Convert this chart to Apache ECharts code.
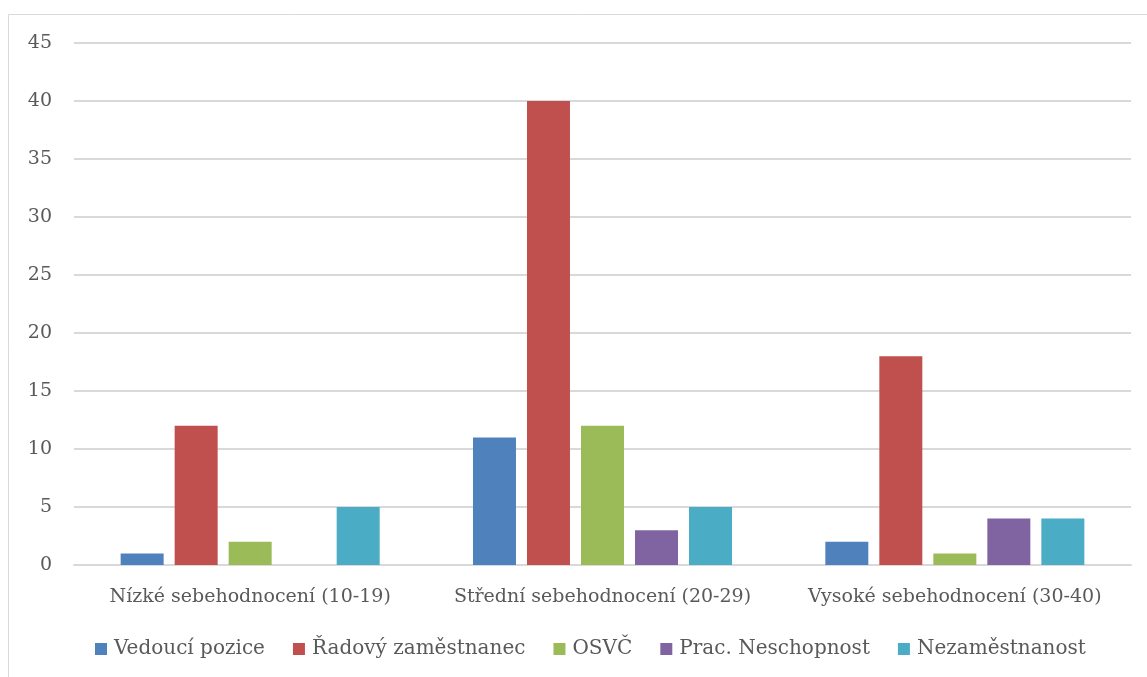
<!DOCTYPE html>
<html>
<head>
<meta charset="utf-8">
<script src="https://cdn.jsdelivr.net/npm/echarts@6/dist/echarts.min.js"></script>
<style>
html,body{margin:0;padding:0;background:#fff;}
#chart{width:1147px;height:677px;}
</style>
</head>
<body>
<div id="chart"></div>
<script>
const categories = ['Nízké sebehodnocení (10-19)', 'Střední sebehodnocení (20-29)', 'Vysoké sebehodnocení (30-40)'];
const seriesNames = ['Vedoucí pozice', 'Řadový zaměstnanec', 'OSVČ', 'Prac. Neschopnost', 'Nezaměstnanost'];
const vedouci = [1, 11, 2];
const radovy = [12, 40, 18];
const osvc = [2, 12, 1];
const pracNeschopnost = ['-', 3, 4];
const nezamestnanost = [5, 5, 4];
const colors = ['#4F81BD', '#C0504D', '#9BBB59', '#8064A2', '#4BACC6'];
const allValues = [vedouci, radovy, osvc, pracNeschopnost, nezamestnanost];

const font = 'DejaVu Serif';
const chart = echarts.init(document.getElementById('chart'));
chart.setOption({
  animation: false,
  textStyle: { fontFamily: font },
  graphic: [{
    type: 'rect',
    shape: { x: 8.5, y: 14.5, width: 1300, height: 900 },
    style: { fill: 'none', stroke: '#d9d9d9', lineWidth: 1 },
    silent: true
  }],
  grid: { left: 74, right: 16, top: 43, bottom: 112, containLabel: false },
  legend: {
    data: seriesNames,
    top: 634,
    left: 90,
    itemWidth: 12,
    itemHeight: 12,
    itemGap: 28,
    icon: 'rect',
    textStyle: { fontFamily: font, fontSize: 20, color: '#595959', padding: [0, 0, 0, 2] }
  },
  xAxis: {
    type: 'category',
    data: categories,
    axisLine: { lineStyle: { color: '#d9d9d9', width: 2 } },
    axisTick: { show: false },
    axisLabel: { fontFamily: font, fontSize: 19, color: '#595959', margin: 23, interval: 0 }
  },
  yAxis: {
    type: 'value',
    min: 0, max: 45, interval: 5,
    axisLine: { show: false },
    axisTick: { show: false },
    splitLine: { lineStyle: { color: '#d9d9d9', width: 2 } },
    axisLabel: { fontFamily: font, fontSize: 19, color: '#595959', margin: 22 }
  },
  series: seriesNames.map((name, i) => ({
    name: name,
    type: 'bar',
    data: allValues[i],
    barWidth: 43,
    barGap: '25.6%',
    itemStyle: { color: colors[i] }
  }))
});
</script>
</body>
</html>
